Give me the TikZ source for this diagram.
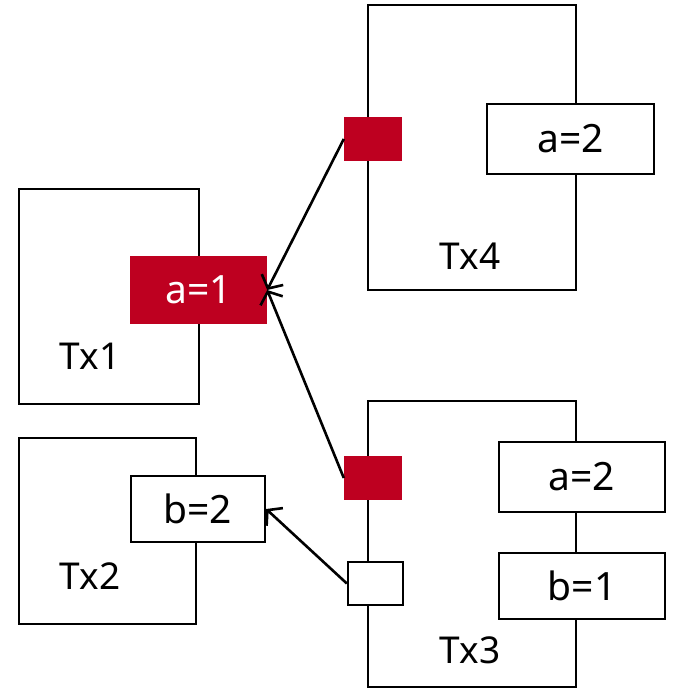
\documentclass[tikz,border=0pt]{standalone}
\usepackage{fontspec}
\setmainfont{Noto Sans}
\usepackage{tikz,xcolor}
\usetikzlibrary{arrows.meta}
\definecolor{lockred}{RGB}{190,0,32}
\tikzstyle{tx} = [draw, line width=2.3pt, inner sep=0pt, fill=white]
\tikzstyle{var} = [draw, line width=2.3pt, inner sep=0pt, fill=white, font=\fontsize{39}{44}\selectfont]
\tikzstyle{held} = [fill=lockred, text=white, inner sep=0pt, font=\fontsize{39}{44}\selectfont]
\tikzstyle{lock} = [inner sep=0pt, minimum width=58pt, minimum height=44pt]
\tikzstyle{txname} = [font=\fontsize{37}{42}\selectfont]
\tikzstyle{wait} = [line width=2.6pt, -{Straight Barb[length=10pt,width=24pt]}]

\begin{document}
\begin{tikzpicture}[x=1pt, y=-1pt]
\useasboundingbox (0,0) rectangle (680,690);
% transactions
\node[tx, minimum width=208pt, minimum height=285pt] (tx4) at (472,147.5) {};
\node[tx, minimum width=180pt, minimum height=215pt] (tx1) at (109,296.5) {};
\node[tx, minimum width=177pt, minimum height=186pt] (tx2) at (107.5,531) {};
\node[tx, minimum width=208pt, minimum height=286pt] (tx3) at (472,544) {};
\node[txname] (tx4name) at (470,256) {Tx4};
\node[txname] (tx1name) at (90,356) {Tx1};
\node[txname] (tx2name) at (90,576) {Tx2};
\node[txname] (tx3name) at (470,650) {Tx3};
% values
\node[var, minimum width=167pt, minimum height=70pt] (tx4a) at (570.5,139) {a=2};
\node[held, minimum width=137pt, minimum height=68pt] (tx1a) at (198.5,290) {a=1};
\node[var, minimum width=134pt, minimum height=66pt] (tx2b) at (198,509) {b=2};
\node[var, minimum width=166pt, minimum height=70pt] (tx3a) at (582,477) {a=2};
\node[var, minimum width=166pt, minimum height=66pt] (tx3b) at (582,586) {b=1};
% locks
\node[lock, fill=lockred] (lock4) at (373,139) {};
\node[lock, fill=lockred] (lock3r) at (373,478) {};
\node[lock, draw, line width=2.3pt, fill=white, minimum width=55pt, minimum height=43pt] (lock3w) at (375.5,583.5) {};
% waits
\draw[wait] (lock4.west) -- (tx1a.east);
\draw[wait] (lock3r.west) -- (tx1a.east);
\draw[wait] (lock3w.west) -- (tx2b.east);
\end{tikzpicture}
\end{document}
